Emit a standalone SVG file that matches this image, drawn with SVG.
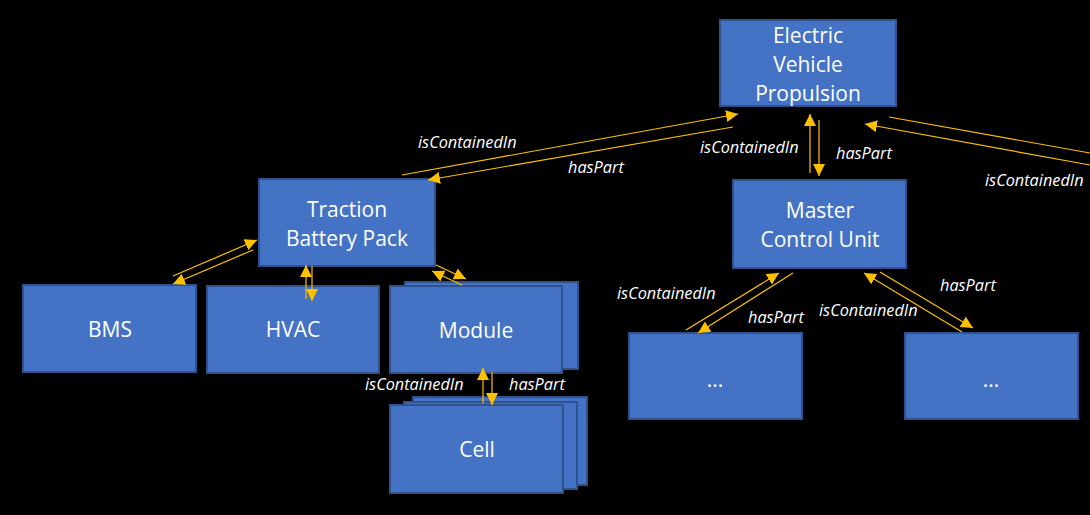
<svg xmlns="http://www.w3.org/2000/svg" width="1090" height="515" viewBox="0 0 1090 515">
<style>
.box{fill:#4472C4;stroke:#2F528F;stroke-width:2}
.t{fill:#fff;font-family:"Open Sans","Liberation Sans",sans-serif;font-size:21px;text-anchor:middle}
.l{fill:#fff;font-family:"Open Sans","Liberation Sans",sans-serif;font-size:16.3px;font-style:italic}
.c{stroke:#FFC000;stroke-width:1.2;fill:none}
.ca{stroke:#FFC000;stroke-width:1.2;fill:none;marker-end:url(#ah)}
</style>
<defs>
<marker id="ah" markerUnits="userSpaceOnUse" markerWidth="14" markerHeight="14" refX="12" refY="6" orient="auto">
<path d="M0,0 L12,6 L0,12 Z" fill="#FFC000"/>
</marker>
</defs>
<rect width="1090" height="515" fill="#000"/>
<g id="evp"><rect class="box" x="720" y="20" width="176" height="86"/>
<text class="t" x="808" y="43">Electric</text><text class="t" x="808" y="72">Vehicle</text><text class="t" x="808" y="101">Propulsion</text></g>
<g id="tbp"><rect class="box" x="259" y="179" width="176" height="87"/>
<text class="t" x="347" y="217">Traction</text><text class="t" x="347" y="246">Battery Pack</text></g>
<g id="bms"><rect class="box" x="23" y="285" width="173" height="87"/><text class="t" x="110" y="337">BMS</text></g>
<g id="hvac"><rect class="box" x="207" y="286" width="172" height="87"/><text class="t" x="293" y="337">HVAC</text></g>
<g id="module"><rect class="box" x="405" y="282" width="173" height="87"/><rect class="box" x="390" y="286" width="172" height="87"/><text class="t" x="476" y="338">Module</text></g>
<g id="cell"><rect class="box" x="413" y="397" width="174" height="88"/><rect class="box" x="404" y="402" width="173" height="87"/><rect class="box" x="390" y="405" width="173" height="88"/><text class="t" x="477" y="457">Cell</text></g>
<g id="mcu"><rect class="box" x="733" y="180" width="173" height="88"/>
<text class="t" x="820" y="218">Master</text><text class="t" x="820" y="247">Control Unit</text></g>
<g id="sub1"><rect class="box" x="629" y="333" width="173" height="86"/><text class="t" x="715" y="387">...</text></g>
<g id="sub2"><rect class="box" x="905" y="333" width="173" height="86"/><text class="t" x="991" y="387">...</text></g>
<g id="connectors">
<line class="ca" x1="402" y1="175" x2="738" y2="114"/>
<line class="ca" x1="733" y1="127" x2="428" y2="180"/>
<line class="ca" x1="810" y1="173" x2="810" y2="114"/>
<line class="ca" x1="819" y1="120" x2="819" y2="176"/>
<line class="c" x1="889" y1="117" x2="1090" y2="153"/>
<line class="ca" x1="1090" y1="165" x2="865" y2="124"/>
<line class="ca" x1="173" y1="276" x2="257" y2="240"/>
<line class="ca" x1="253" y1="250" x2="173" y2="284"/>
<line class="ca" x1="306" y1="299" x2="306" y2="265"/>
<line class="ca" x1="312" y1="266" x2="312" y2="301"/>
<line class="ca" x1="436" y1="265" x2="466" y2="279"/>
<line class="ca" x1="462" y1="285" x2="432" y2="271"/>
<line class="ca" x1="483" y1="403" x2="483" y2="368"/>
<line class="ca" x1="492" y1="372" x2="492" y2="405"/>
<line class="ca" x1="686" y1="330" x2="779" y2="273"/>
<line class="ca" x1="793" y1="273" x2="698" y2="333"/>
<line class="ca" x1="880" y1="272" x2="973" y2="328"/>
<line class="ca" x1="962" y1="332" x2="864" y2="273"/>
<text class="l" x="418" y="148">isContainedIn</text>
<text class="l" x="568" y="173">hasPart</text>
<text class="l" x="700" y="153">isContainedIn</text>
<text class="l" x="836" y="159">hasPart</text>
<text class="l" x="985" y="186">isContainedIn</text>
<text class="l" x="365" y="390">isContainedIn</text>
<text class="l" x="509" y="390">hasPart</text>
<text class="l" x="617" y="299">isContainedIn</text>
<text class="l" x="748" y="323">hasPart</text>
<text class="l" x="940" y="291">hasPart</text>
<text class="l" x="819" y="316">isContainedIn</text>
</g>
</svg>
